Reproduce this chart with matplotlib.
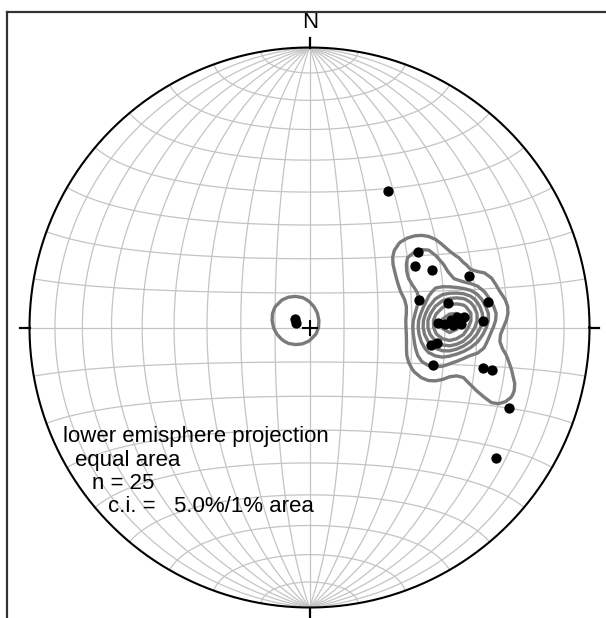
import numpy as np
import matplotlib
matplotlib.use("Agg")
import matplotlib.pyplot as plt

# lineations, lower hemisphere: trend / plunge in degrees
trend = np.array([30, 55, 60, 65, 72, 76, 80, 82, 88, 98, 97, 107, 103, 103,
                  112, 125, 300, 288, 88, 88.5, 87, 86, 86, 88.5, 89])
plunge = np.array([43, 51, 54, 50, 40, 57, 48.5, 36, 38, 54, 52, 52, 36.5, 33.5,
                   24, 20, 85, 86, 52, 50, 48, 46, 44, 45, 47.5])
n = len(trend)
levels = [5, 10, 15, 20, 25, 30, 35]   # contour interval 5% per 1% area
info = ["lower emisphere projection", "equal area", "n = 25",
        "c.i. =   5.0%/1% area"]
info_x = [-0.880, -0.8375, -0.777, -0.7196]

plt.rcParams['font.family'] = ['Liberation Sans', 'DejaVu Sans']


def project(t, p):
    # Lambert equal-area, lower hemisphere, unit primitive
    t = np.radians(t)
    p = np.radians(p)
    r = np.sqrt(1 - np.sin(p))
    return r * np.sin(t), r * np.cos(t)


def net_point(lat, lon):
    # equatorial Schmidt net, N-S polar axis
    lat = np.radians(lat)
    lon = np.radians(lon)
    k = np.sqrt(1 + np.cos(lat) * np.cos(lon))
    return np.cos(lat) * np.sin(lon) / k, np.sin(lat) / k


def smooth(a, passes=2):
    for _ in range(passes):
        p = np.pad(a, 1, mode='edge')
        a = sum(p[i:i + a.shape[0], j:j + a.shape[1]]
                for i in range(3) for j in range(3)) / 9.0
    return a


fig = plt.figure(figsize=(6.06, 6.18), dpi=100)
ax = fig.add_axes([7/606, 0, 599/606, 606/618])
ax.set_xlim(-1.0804, 1.0589)
ax.set_ylim(-1.0375, 1.1268)
ax.set_aspect('equal')
ax.set_xticks([])
ax.set_yticks([])
for s in ['right', 'bottom']:
    ax.spines[s].set_visible(False)
for s in ['left', 'top']:
    ax.spines[s].set_linewidth(1.6)
    ax.spines[s].set_color('#333333')

# grid
gcol = '#c4c4c4'
s = np.linspace(-90, 90, 181)
for lon in range(-80, 90, 10):
    x, y = net_point(s, np.full_like(s, lon))
    ax.plot(x, y, color=gcol, lw=0.9, zorder=1)
for lat in range(-80, 90, 10):
    x, y = net_point(np.full_like(s, lat), s)
    ax.plot(x, y, color=gcol, lw=0.9, zorder=1)

# primitive and cardinal ticks
a = np.linspace(0, 2*np.pi, 400)
ax.plot(np.cos(a), np.sin(a), color='black', lw=1.5, zorder=3)
tl = 0.035
ax.plot([0, 0], [1, 1 + tl], color='black', lw=1.6)
ax.plot([0, 0], [-1, -1 - tl], color='black', lw=1.6)
ax.plot([-1, -1 - tl], [0, 0], color='black', lw=1.6)
ax.plot([1, 1 + tl], [0, 0], color='black', lw=1.6)
ax.plot([-0.025, 0.025], [0, 0], color='black', lw=1.5, zorder=5)
ax.plot([0, 0], [-0.025, 0.025], color='black', lw=1.5, zorder=5)
ax.text(0.002, 1.088, "N", ha='center', va='center', fontsize=16)

# density: 1% area counting circle (radius 0.1 on the net), lightly smoothed
x, y = project(trend, plunge)
g = np.linspace(-1, 1, 81)
gx, gy = np.meshgrid(g, g)
rho = np.hypot(gx, gy)
dist = np.hypot(gx[..., None] - x, gy[..., None] - y)
count = (dist <= 0.1).sum(axis=-1).astype(float)
dens = smooth(count / n * 100.0, 2)
dens = np.where(rho <= 1.0, dens, np.nan)
ax.contour(gx, gy, dens, levels=levels, colors='#7a7a7a', linewidths=2.4,
           zorder=4)

ax.scatter(x, y, s=55, color='black', zorder=6, linewidths=0)

ty = -0.391
for tx, line in zip(info_x, info):
    ax.text(tx, ty, line, ha='left', va='center', fontsize=16, zorder=7)
    ty -= 0.0833

fig.savefig("out.png", dpi=100)
